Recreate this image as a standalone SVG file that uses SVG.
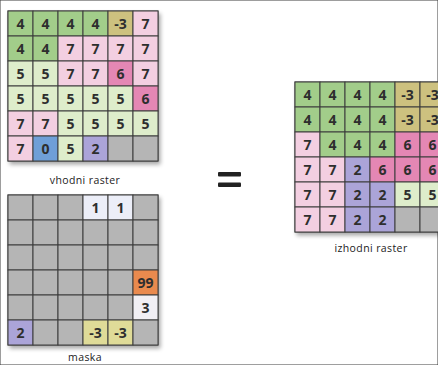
<svg xmlns="http://www.w3.org/2000/svg" width="438" height="365" viewBox="0 0 438 365">
<defs>
<filter id="sh" x="-10%" y="-10%" width="130%" height="130%">
<feGaussianBlur in="SourceAlpha" stdDeviation="2"/>
<feOffset dx="2" dy="3" result="b"/>
<feComponentTransfer><feFuncA type="linear" slope="0.35"/></feComponentTransfer>
<feMerge><feMergeNode/><feMergeNode in="SourceGraphic"/></feMerge>
</filter>
</defs>
<style>
rect{stroke:#3c3c3c;stroke-width:1}
.g{fill:#a2cd8a}.l{fill:#deedcb}.p{fill:#f3cfe1}.h{fill:#e487b4}.o{fill:#cdc17f}.y{fill:#dfdb98}
.b{fill:#6f9fd8}.v{fill:#aba4d8}.x{fill:#b5b5b5}.w{fill:#eceef8}.r{fill:#e98a4e}.q{fill:#f1eff4}
text.n{font-family:"Open Sans","DejaVu Sans",sans-serif;font-weight:bold;font-size:14px;fill:#2e2e2e;text-anchor:middle}
text.t{font-family:"Open Sans","DejaVu Sans",sans-serif;font-size:10.5px;fill:#222;text-anchor:middle;letter-spacing:0.4px}
.eq{fill:#222;stroke:none}
</style>
<rect width="438" height="365" fill="#ffffff" stroke="none"/>

<g id="vhodni-raster">
<g filter="url(#sh)">
<rect x="8" y="11" width="150" height="150" fill="#b5b5b5"/>
</g>
<rect class="g" x="8" y="11" width="25" height="25"/><rect class="g" x="33" y="11" width="25" height="25"/><rect class="g" x="58" y="11" width="25" height="25"/><rect class="g" x="83" y="11" width="25" height="25"/><rect class="o" x="108" y="11" width="25" height="25"/><rect class="p" x="133" y="11" width="25" height="25"/>
<rect class="g" x="8" y="36" width="25" height="25"/><rect class="g" x="33" y="36" width="25" height="25"/><rect class="p" x="58" y="36" width="25" height="25"/><rect class="p" x="83" y="36" width="25" height="25"/><rect class="p" x="108" y="36" width="25" height="25"/><rect class="p" x="133" y="36" width="25" height="25"/>
<rect class="l" x="8" y="61" width="25" height="25"/><rect class="l" x="33" y="61" width="25" height="25"/><rect class="p" x="58" y="61" width="25" height="25"/><rect class="p" x="83" y="61" width="25" height="25"/><rect class="h" x="108" y="61" width="25" height="25"/><rect class="p" x="133" y="61" width="25" height="25"/>
<rect class="l" x="8" y="86" width="25" height="25"/><rect class="l" x="33" y="86" width="25" height="25"/><rect class="l" x="58" y="86" width="25" height="25"/><rect class="l" x="83" y="86" width="25" height="25"/><rect class="l" x="108" y="86" width="25" height="25"/><rect class="h" x="133" y="86" width="25" height="25"/>
<rect class="p" x="8" y="111" width="25" height="25"/><rect class="p" x="33" y="111" width="25" height="25"/><rect class="l" x="58" y="111" width="25" height="25"/><rect class="l" x="83" y="111" width="25" height="25"/><rect class="l" x="108" y="111" width="25" height="25"/><rect class="l" x="133" y="111" width="25" height="25"/>
<rect class="p" x="8" y="136" width="25" height="25"/><rect class="b" x="33" y="136" width="25" height="25"/><rect class="l" x="58" y="136" width="25" height="25"/><rect class="v" x="83" y="136" width="25" height="25"/><rect class="x" x="108" y="136" width="25" height="25"/><rect class="x" x="133" y="136" width="25" height="25"/>
<text class="n" x="20.5" y="28.5">4</text><text class="n" x="45.5" y="28.5">4</text><text class="n" x="70.5" y="28.5">4</text><text class="n" x="95.5" y="28.5">4</text><text class="n" x="120.5" y="28.5">-3</text><text class="n" x="145.5" y="28.5">7</text>
<text class="n" x="20.5" y="53.5">4</text><text class="n" x="45.5" y="53.5">4</text><text class="n" x="70.5" y="53.5">7</text><text class="n" x="95.5" y="53.5">7</text><text class="n" x="120.5" y="53.5">7</text><text class="n" x="145.5" y="53.5">7</text>
<text class="n" x="20.5" y="78.5">5</text><text class="n" x="45.5" y="78.5">5</text><text class="n" x="70.5" y="78.5">7</text><text class="n" x="95.5" y="78.5">7</text><text class="n" x="120.5" y="78.5">6</text><text class="n" x="145.5" y="78.5">7</text>
<text class="n" x="20.5" y="103.5">5</text><text class="n" x="45.5" y="103.5">5</text><text class="n" x="70.5" y="103.5">5</text><text class="n" x="95.5" y="103.5">5</text><text class="n" x="120.5" y="103.5">5</text><text class="n" x="145.5" y="103.5">6</text>
<text class="n" x="20.5" y="128.5">7</text><text class="n" x="45.5" y="128.5">7</text><text class="n" x="70.5" y="128.5">5</text><text class="n" x="95.5" y="128.5">5</text><text class="n" x="120.5" y="128.5">5</text><text class="n" x="145.5" y="128.5">5</text>
<text class="n" x="20.5" y="153.5">7</text><text class="n" x="45.5" y="153.5">0</text><text class="n" x="70.5" y="153.5">5</text><text class="n" x="95.5" y="153.5">2</text>
<text class="t" x="85" y="184">vhodni raster</text>
</g>

<g id="maska">
<g filter="url(#sh)">
<rect x="8" y="195" width="150" height="150" fill="#b5b5b5"/>
</g>
<rect class="x" x="8" y="195" width="25" height="25"/><rect class="x" x="33" y="195" width="25" height="25"/><rect class="x" x="58" y="195" width="25" height="25"/><rect class="w" x="83" y="195" width="25" height="25"/><rect class="w" x="108" y="195" width="25" height="25"/><rect class="x" x="133" y="195" width="25" height="25"/>
<rect class="x" x="8" y="220" width="25" height="25"/><rect class="x" x="33" y="220" width="25" height="25"/><rect class="x" x="58" y="220" width="25" height="25"/><rect class="x" x="83" y="220" width="25" height="25"/><rect class="x" x="108" y="220" width="25" height="25"/><rect class="x" x="133" y="220" width="25" height="25"/>
<rect class="x" x="8" y="245" width="25" height="25"/><rect class="x" x="33" y="245" width="25" height="25"/><rect class="x" x="58" y="245" width="25" height="25"/><rect class="x" x="83" y="245" width="25" height="25"/><rect class="x" x="108" y="245" width="25" height="25"/><rect class="x" x="133" y="245" width="25" height="25"/>
<rect class="x" x="8" y="270" width="25" height="25"/><rect class="x" x="33" y="270" width="25" height="25"/><rect class="x" x="58" y="270" width="25" height="25"/><rect class="x" x="83" y="270" width="25" height="25"/><rect class="x" x="108" y="270" width="25" height="25"/><rect class="r" x="133" y="270" width="25" height="25"/>
<rect class="x" x="8" y="295" width="25" height="25"/><rect class="x" x="33" y="295" width="25" height="25"/><rect class="x" x="58" y="295" width="25" height="25"/><rect class="x" x="83" y="295" width="25" height="25"/><rect class="x" x="108" y="295" width="25" height="25"/><rect class="q" x="133" y="295" width="25" height="25"/>
<rect class="v" x="8" y="320" width="25" height="25"/><rect class="x" x="33" y="320" width="25" height="25"/><rect class="x" x="58" y="320" width="25" height="25"/><rect class="y" x="83" y="320" width="25" height="25"/><rect class="y" x="108" y="320" width="25" height="25"/><rect class="x" x="133" y="320" width="25" height="25"/>
<text class="n" x="95.5" y="212.5">1</text><text class="n" x="120.5" y="212.5">1</text>
<text class="n" x="145.5" y="287.5">99</text>
<text class="n" x="145.5" y="312.5">3</text>
<text class="n" x="20.5" y="337.5">2</text><text class="n" x="95.5" y="337.5">-3</text><text class="n" x="120.5" y="337.5">-3</text>
<text class="t" x="85" y="361">maska</text>
</g>

<g id="enako">
<rect class="eq" x="218" y="172" width="23" height="4.5" rx="1"/>
<rect class="eq" x="218" y="182.5" width="23" height="4.5" rx="1"/>
</g>

<g id="izhodni-raster">
<g filter="url(#sh)">
<rect x="295" y="82" width="150" height="150" fill="#b5b5b5"/>
</g>
<rect class="g" x="295" y="82" width="25" height="25"/><rect class="g" x="320" y="82" width="25" height="25"/><rect class="g" x="345" y="82" width="25" height="25"/><rect class="g" x="370" y="82" width="25" height="25"/><rect class="o" x="395" y="82" width="25" height="25"/><rect class="o" x="420" y="82" width="25" height="25"/>
<rect class="g" x="295" y="107" width="25" height="25"/><rect class="g" x="320" y="107" width="25" height="25"/><rect class="g" x="345" y="107" width="25" height="25"/><rect class="g" x="370" y="107" width="25" height="25"/><rect class="o" x="395" y="107" width="25" height="25"/><rect class="o" x="420" y="107" width="25" height="25"/>
<rect class="p" x="295" y="132" width="25" height="25"/><rect class="g" x="320" y="132" width="25" height="25"/><rect class="g" x="345" y="132" width="25" height="25"/><rect class="g" x="370" y="132" width="25" height="25"/><rect class="h" x="395" y="132" width="25" height="25"/><rect class="h" x="420" y="132" width="25" height="25"/>
<rect class="p" x="295" y="157" width="25" height="25"/><rect class="p" x="320" y="157" width="25" height="25"/><rect class="v" x="345" y="157" width="25" height="25"/><rect class="h" x="370" y="157" width="25" height="25"/><rect class="h" x="395" y="157" width="25" height="25"/><rect class="h" x="420" y="157" width="25" height="25"/>
<rect class="p" x="295" y="182" width="25" height="25"/><rect class="p" x="320" y="182" width="25" height="25"/><rect class="v" x="345" y="182" width="25" height="25"/><rect class="v" x="370" y="182" width="25" height="25"/><rect class="l" x="395" y="182" width="25" height="25"/><rect class="l" x="420" y="182" width="25" height="25"/>
<rect class="p" x="295" y="207" width="25" height="25"/><rect class="p" x="320" y="207" width="25" height="25"/><rect class="v" x="345" y="207" width="25" height="25"/><rect class="v" x="370" y="207" width="25" height="25"/><rect class="x" x="395" y="207" width="25" height="25"/><rect class="x" x="420" y="207" width="25" height="25"/>
<text class="n" x="307.5" y="99.5">4</text><text class="n" x="332.5" y="99.5">4</text><text class="n" x="357.5" y="99.5">4</text><text class="n" x="382.5" y="99.5">4</text><text class="n" x="407.5" y="99.5">-3</text><text class="n" x="432.5" y="99.5">-3</text>
<text class="n" x="307.5" y="124.5">4</text><text class="n" x="332.5" y="124.5">4</text><text class="n" x="357.5" y="124.5">4</text><text class="n" x="382.5" y="124.5">4</text><text class="n" x="407.5" y="124.5">-3</text><text class="n" x="432.5" y="124.5">-3</text>
<text class="n" x="307.5" y="149.5">7</text><text class="n" x="332.5" y="149.5">4</text><text class="n" x="357.5" y="149.5">4</text><text class="n" x="382.5" y="149.5">4</text><text class="n" x="407.5" y="149.5">6</text><text class="n" x="432.5" y="149.5">6</text>
<text class="n" x="307.5" y="174.5">7</text><text class="n" x="332.5" y="174.5">7</text><text class="n" x="357.5" y="174.5">2</text><text class="n" x="382.5" y="174.5">6</text><text class="n" x="407.5" y="174.5">6</text><text class="n" x="432.5" y="174.5">6</text>
<text class="n" x="307.5" y="199.5">7</text><text class="n" x="332.5" y="199.5">7</text><text class="n" x="357.5" y="199.5">2</text><text class="n" x="382.5" y="199.5">2</text><text class="n" x="407.5" y="199.5">5</text><text class="n" x="432.5" y="199.5">5</text>
<text class="n" x="307.5" y="224.5">7</text><text class="n" x="332.5" y="224.5">7</text><text class="n" x="357.5" y="224.5">2</text><text class="n" x="382.5" y="224.5">2</text>
<text class="t" x="371" y="252">izhodni raster</text>
</g>
</svg>
